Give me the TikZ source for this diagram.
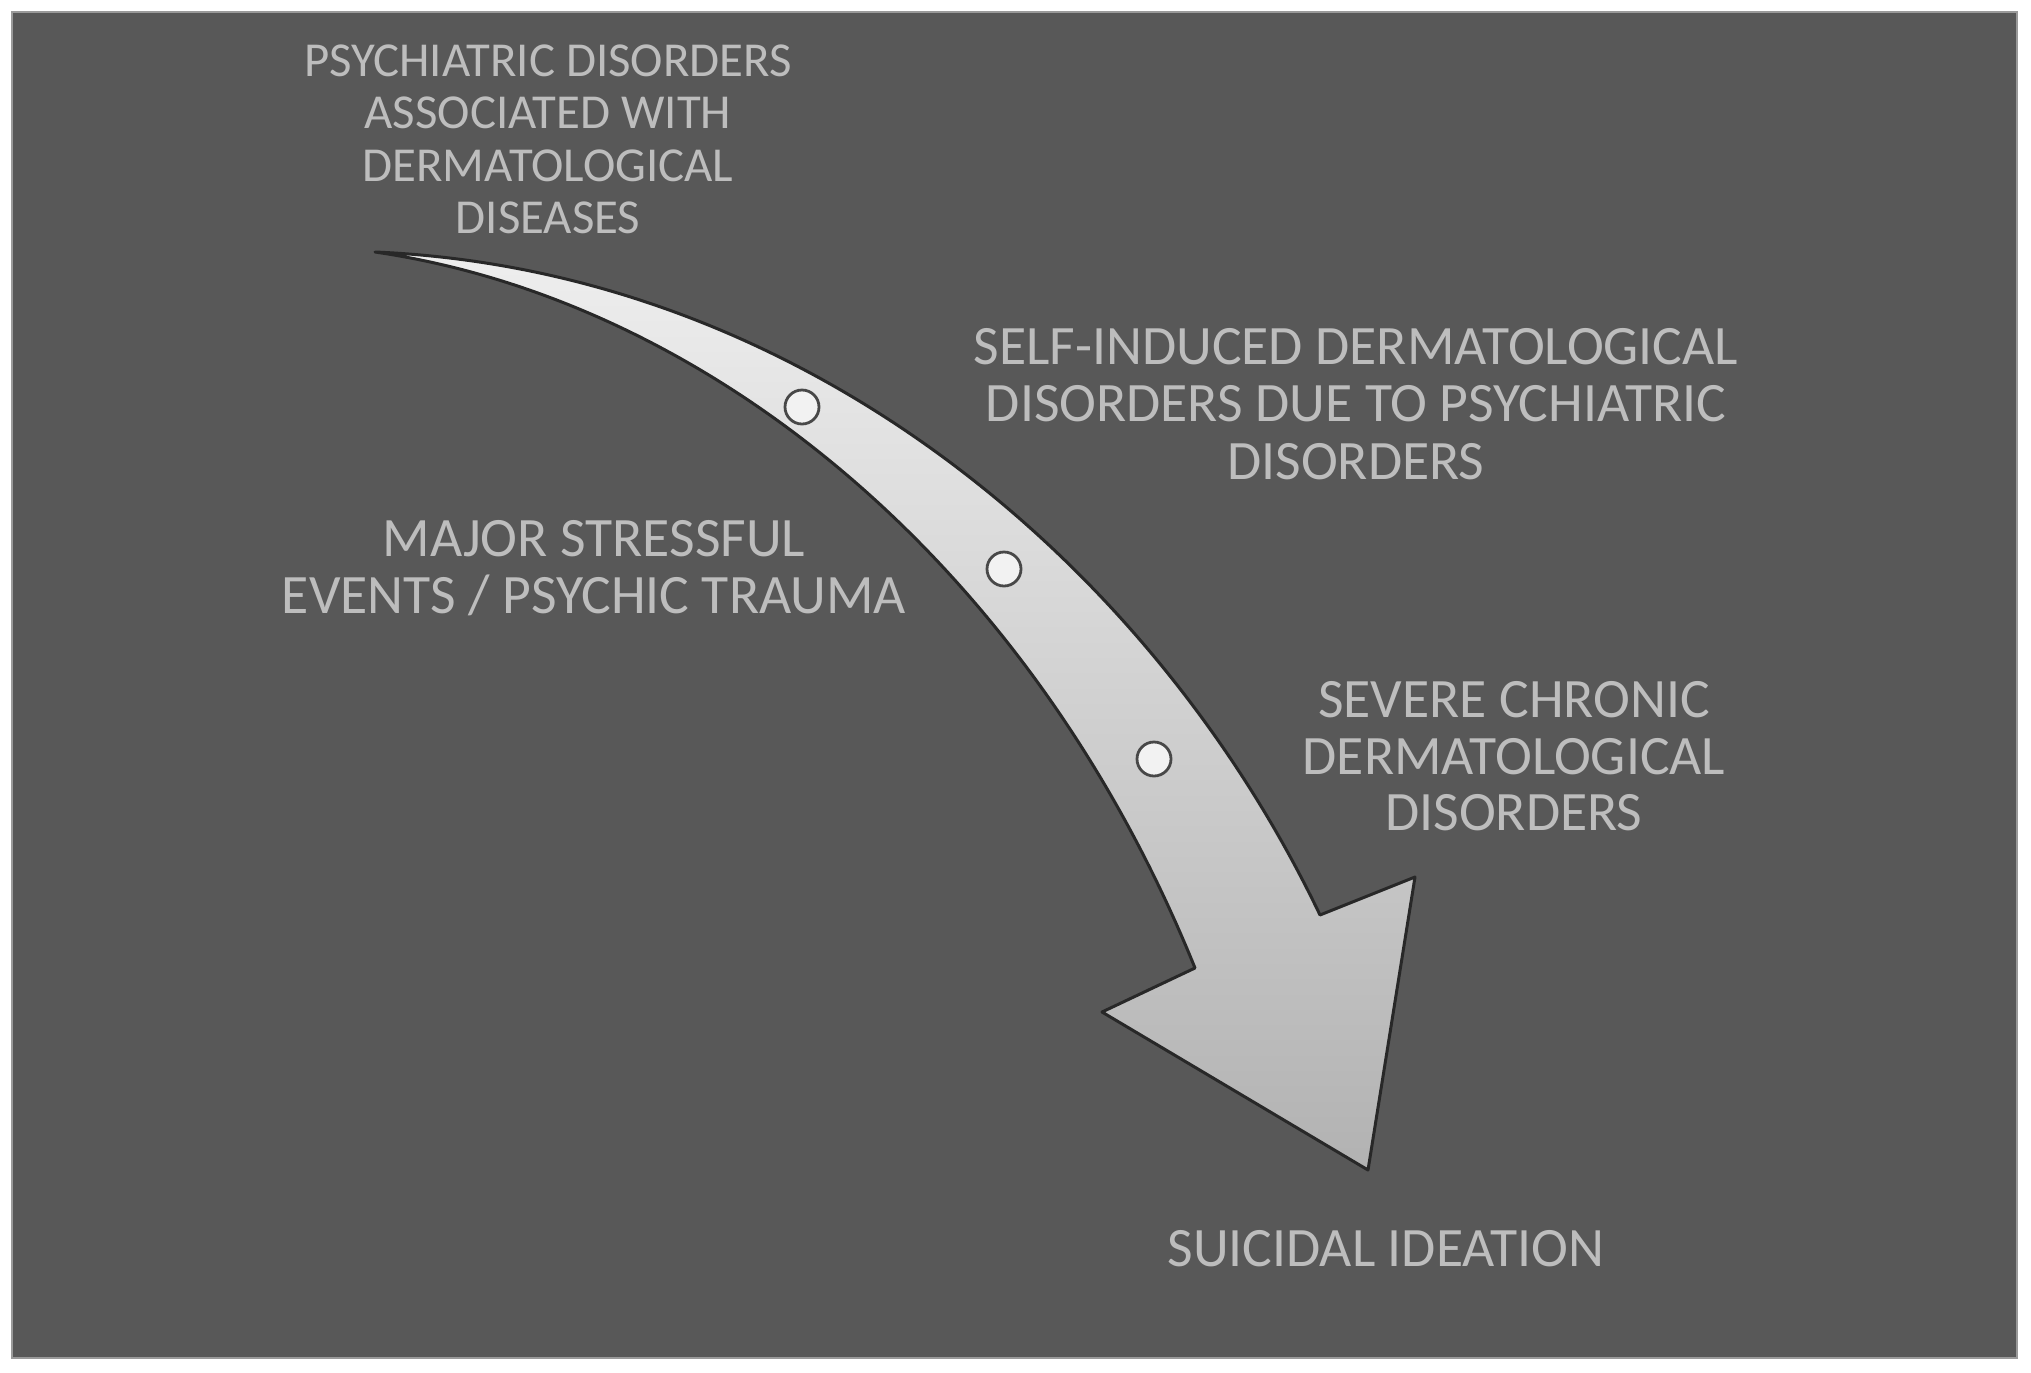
\documentclass[tikz,border=0pt]{standalone}
\usepackage{fontspec}
\setmainfont{Carlito}
\definecolor{bg}{HTML}{585858}
\definecolor{txt}{HTML}{BDBDBD}
\definecolor{edge}{HTML}{282828}
\definecolor{frame}{HTML}{9A9A9A}
\definecolor{shA}{HTML}{EEEEEE}
\definecolor{shB}{HTML}{C4C4C4}
\definecolor{shC}{HTML}{B2B2B2}
\definecolor{dotfill}{HTML}{F2F2F2}
\begin{document}
\begin{tikzpicture}[x=0.5pt,y=-0.5pt,
  lbl/.style={text=txt, align=center, inner sep=0pt, anchor=north},
  big/.style={font=\fontsize{27.8}{28.3}\selectfont},
  small/.style={font=\fontsize{24.4}{26.3}\selectfont},
  dot/.style={circle, draw=edge!85, fill=dotfill, line width=1.4pt, minimum size=17pt, inner sep=0pt}]
\useasboundingbox (0,0) rectangle (2031,1372);
\fill[white] (0,0) rectangle (2031,1372);
\filldraw[fill=bg, draw=frame, line width=1.2pt] (12,12) rectangle (2017,1358);
% arrow
\coordinate (tail) at (375,252);
\coordinate (nr) at (1320,915);
\coordinate (br) at (1415,877);
\coordinate (tip) at (1368,1170);
\coordinate (bl) at (1102,1012);
\coordinate (nl) at (1195,968);
\shadedraw[draw=edge, line width=1.5pt, line join=round,
  top color=shA, middle color=shB, bottom color=shC]
  (tail) .. controls (800,270) and (1150,560) .. (nr) -- (br) -- (tip) -- (bl) -- (nl)
  .. controls (1030,560) and (705,300) .. (tail) -- cycle;
\node[dot] (c1) at (802,407) {};
\node[dot] (c2) at (1004,569) {};
\node[dot] (c3) at (1154,759) {};
% labels
\node[lbl, small] (t1) at (548,44) {PSYCHIATRIC DISORDERS\\ASSOCIATED WITH\\DERMATOLOGICAL\\DISEASES};
\node[lbl, font=\fontsize{27.8}{28.7}\selectfont] (t2) at (1356,328) {SELF-INDUCED DERMATOLOGICAL\\DISORDERS DUE TO PSYCHIATRIC\\DISORDERS};
\node[lbl, big] (t3) at (594,520) {MAJOR STRESSFUL\\EVENTS / PSYCHIC TRAUMA};
\node[lbl, big] (t4) at (1514,681) {SEVERE CHRONIC\\DERMATOLOGICAL\\DISORDERS};
\node[lbl, big] (t5) at (1386,1230) {SUICIDAL IDEATION};
\end{tikzpicture}
\end{document}
